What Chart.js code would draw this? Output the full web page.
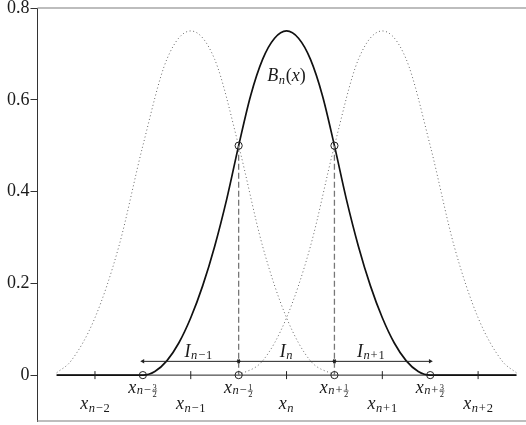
<!DOCTYPE html>
<html>
<head>
<meta charset="utf-8">
<script src="https://cdn.jsdelivr.net/npm/chart.js@4/dist/chart.umd.min.js"></script>
<style>
  html, body { margin: 0; padding: 0; background: #fff; overflow: hidden; }
  #wrap { width: 526px; height: 425px; }
</style>
</head>
<body>
<div id="wrap"><canvas id="splineChart" width="526" height="425"></canvas></div>
<script>
// B_n(x) (x in cell widths, centred on x_n)
const splineX = [-2.4, -1.5, -1.375, -1.25, -1.125, -1, -0.875, -0.75, -0.625, -0.5, -0.375, -0.25, -0.125, 0,
                 0.125, 0.25, 0.375, 0.5, 0.625, 0.75, 0.875, 1, 1.125, 1.25, 1.375, 1.5, 2.4];
const splineY = [0, 0, 0.008, 0.031, 0.07, 0.125, 0.195, 0.281, 0.383, 0.5, 0.609, 0.688, 0.734, 0.75,
                 0.734, 0.688, 0.609, 0.5, 0.383, 0.281, 0.195, 0.125, 0.07, 0.031, 0.008, 0, 0];

// neighbouring splines (dotted)
const leftX  = [-2.4, -2.25, -2, -1.75, -1.5, -1.25, -1, -0.75, -0.5, -0.25, 0, 0.25, 0.5];
const leftY  = [0.005, 0.031, 0.125, 0.281, 0.5, 0.688, 0.75, 0.688, 0.5, 0.281, 0.125, 0.031, 0];
const rightX = [-0.5, -0.25, 0, 0.25, 0.5, 0.75, 1, 1.25, 1.5, 1.75, 2, 2.25, 2.4];
const rightY = [0, 0.031, 0.125, 0.281, 0.5, 0.688, 0.75, 0.688, 0.5, 0.281, 0.125, 0.031, 0.005];

// knots, cell centres, intervals
const knotX = [-1.5, -0.5, 0.5, 1.5];
const knotY = [0, 0, 0, 0];
const midX = [-0.5, 0.5];
const midY = [0.5, 0.5];
const gridX = [-2, -1, 0, 1, 2];
const intervalStart = [-1.5, -0.5, 0.5];
const intervalEnd = [-0.5, 0.5, 1.5];
const arrowY = 0.03;
const yTicks = [0, 0.2, 0.4, 0.6, 0.8];

// labels
const knotSubs = ['n−', 'n−', 'n+', 'n+'];
const knotFracs = [['3', '2'], ['1', '2'], ['1', '2'], ['3', '2']];
const gridSubs = ['n−2', 'n−1', 'n', 'n+1', 'n+2'];
const intervalSubs = ['n−1', 'n', 'n+1'];
const intervalLabelX = [-0.92, 0, 0.88];

const SERIF = '"Liberation Serif", "DejaVu Serif", serif';
const MAIN = 'italic 18px ' + SERIF;
const SUBI = 'italic 12.5px ' + SERIF;
const SUBR = '12.5px ' + SERIF;
const FRAC = '8.5px ' + SERIF;

function pts(xs, ys) {
    return xs.map(function (x, i) { return {x: x, y: ys[i]}; });
}

function subSegs(sub, dy) {
    // first letter is the italic n, the rest upright (operator gets a bit of air)
    let segs = [{t: sub[0], font: SUBI, dy: dy, gap: 0.8}];
    if (sub.length > 1) {
        segs.push({t: sub[1], font: SUBR, dy: dy, gap: 0.8});
        if (sub.length > 2) segs.push({t: sub.slice(2), font: SUBR, dy: dy});
    }
    return segs;
}

function drawMath(ctx, cx, y, segs) {
    let w = 0;
    segs.forEach(function (s) {
        ctx.font = s.font;
        if (s.frac) {
            s.w = Math.max(ctx.measureText(s.frac[0]).width, ctx.measureText(s.frac[1]).width) + 1.5;
        } else {
            s.w = ctx.measureText(s.t).width;
        }
        w += s.w + (s.gap || 0);
    });
    let x = cx - w / 2;
    ctx.textAlign = 'left';
    ctx.textBaseline = 'alphabetic';
    ctx.fillStyle = '#1a1a1a';
    segs.forEach(function (s) {
        ctx.font = s.font;
        if (s.frac) {
            let bar = y + s.dy;
            let nw = ctx.measureText(s.frac[0]).width;
            let dw = ctx.measureText(s.frac[1]).width;
            ctx.fillText(s.frac[0], x + (s.w - nw) / 2, bar - 1);
            ctx.fillText(s.frac[1], x + (s.w - dw) / 2, bar + 6.5);
            ctx.beginPath();
            ctx.strokeStyle = '#1a1a1a';
            ctx.lineWidth = 0.6;
            ctx.moveTo(x + 0.3, bar);
            ctx.lineTo(x + s.w - 0.3, bar);
            ctx.stroke();
        } else {
            ctx.fillText(s.t, x, y + s.dy);
        }
        x += s.w + (s.gap || 0);
    });
}

// frame lines + math labels
const labelPlugin = {
    id: 'labels',
    beforeDatasetsDraw: function (chart) {
        const ctx = chart.ctx, a = chart.chartArea;
        ctx.save();
        ctx.strokeStyle = '#a8a8a8';
        ctx.lineWidth = 1.3;
        ctx.beginPath();
        ctx.moveTo(a.left, a.top);
        ctx.lineTo(a.right, a.top);
        ctx.moveTo(a.left, a.bottom);
        ctx.lineTo(a.right, a.bottom);
        ctx.stroke();
        ctx.restore();
    },
    afterDatasetsDraw: function (chart) {
        const ctx = chart.ctx;
        const xs = chart.scales.x, ys = chart.scales.y;
        ctx.save();

        // x_{n±k/2} under the knots
        knotX.forEach(function (k, i) {
            let segs = [{t: 'x', font: MAIN, dy: 0, gap: 0.5}].concat(subSegs(knotSubs[i], 1));
            segs.push({frac: knotFracs[i], font: FRAC, dy: -2.5});
            drawMath(ctx, xs.getPixelForValue(k), ys.getPixelForValue(-0.04), segs);
        });

        // x_{n+k} under the cell centres
        gridX.forEach(function (g, i) {
            let segs = [{t: 'x', font: MAIN, dy: 0, gap: 0.5}].concat(subSegs(gridSubs[i], 3));
            drawMath(ctx, xs.getPixelForValue(g), ys.getPixelForValue(-0.074), segs);
        });

        // I_{n+k} above the arrows
        intervalLabelX.forEach(function (lx, i) {
            let segs = [{t: 'I', font: MAIN, dy: 0, gap: 0.5}].concat(subSegs(intervalSubs[i], 2));
            drawMath(ctx, xs.getPixelForValue(lx), ys.getPixelForValue(0.039), segs);
        });

        // B_n(x)
        drawMath(ctx, xs.getPixelForValue(0), ys.getPixelForValue(0.64), [
            {t: 'B', font: MAIN, dy: 0, gap: 0.5},
            {t: 'n', font: SUBI, dy: 3, gap: 0.8},
            {t: '(', font: '18px ' + SERIF, dy: 0},
            {t: 'x', font: MAIN, dy: 0},
            {t: ')', font: '18px ' + SERIF, dy: 0}
        ]);
        ctx.restore();
    }
};

let datasets = [];

// circles on knots and at the 0.5 crossings
datasets.push({
    data: pts(knotX, knotY).concat(pts(midX, midY)),
    showLine: false,
    pointStyle: 'circle',
    pointRadius: 3.6,
    borderColor: '#222',
    backgroundColor: 'rgba(0,0,0,0)',
    pointBorderWidth: 1
});

// small ticks on the axis line at the cell centres
datasets.push({
    data: pts(gridX, gridX.map(function () { return 0; })),
    showLine: false,
    pointStyle: 'line',
    pointRotation: 90,
    pointRadius: 4,
    borderColor: '#222',
    pointBorderWidth: 1
});

// double arrows for the intervals
intervalStart.forEach(function (s, i) {
    datasets.push({
        data: pts([s, intervalEnd[i]], [arrowY, arrowY]),
        showLine: true,
        borderColor: '#222',
        borderWidth: 1,
        backgroundColor: '#222',
        pointStyle: 'triangle',
        pointRotation: [270, 90],
        pointRadius: 2.6,
        pointBorderWidth: 0
    });
});

// dashed drops from the 0.5 crossings
midX.forEach(function (m, i) {
    datasets.push({
        data: pts([m, m], [midY[i], 0]),
        showLine: true,
        borderColor: '#777',
        borderWidth: 1.3,
        borderDash: [6, 3],
        pointRadius: 0
    });
});

// B_n solid
datasets.push({
    data: pts(splineX, splineY),
    showLine: true,
    borderColor: '#111',
    borderWidth: 1.7,
    cubicInterpolationMode: 'monotone',
    pointRadius: 0
});

// neighbours dotted
[[leftX, leftY], [rightX, rightY]].forEach(function (d) {
    datasets.push({
        data: pts(d[0], d[1]),
        showLine: true,
        borderColor: '#666',
        borderWidth: 1,
        borderDash: [1, 2.6],
        cubicInterpolationMode: 'monotone',
        pointRadius: 0
    });
});

// thin axis line y = 0
datasets.push({
    data: pts([-2.4, 2.4], [0, 0]),
    showLine: true,
    borderColor: '#222',
    borderWidth: 1,
    pointRadius: 0
});

let ctx = document.getElementById('splineChart').getContext('2d');
let myChart = new Chart(ctx, {
    type: 'scatter',
    data: {datasets: datasets},
    options: {
        responsive: false,
        animation: false,
        devicePixelRatio: 1,
        events: [],
        layout: {autoPadding: false, padding: {top: 8, bottom: 4, left: 0, right: 0}},
        plugins: {legend: {display: false}, tooltip: {enabled: false}},
        scales: {
            x: {
                type: 'linear',
                min: -2.6,
                max: 2.5,
                display: false,
                ticks: {display: false},
                afterFit: function (scale) {
                    scale.paddingLeft = 0;
                    scale.paddingRight = 0;
                }
            },
            y: {
                type: 'linear',
                min: -0.1,
                max: 0.8,
                afterBuildTicks: function (scale) {
                    scale.ticks = yTicks.map(function (v) { return {value: v}; });
                },
                afterFit: function (scale) {
                    scale.width = 37.5;
                    scale.paddingTop = 0;
                    scale.paddingBottom = 0;
                },
                border: {color: '#333', width: 1},
                grid: {drawOnChartArea: false, drawTicks: true, tickLength: 7, color: '#333'},
                ticks: {
                    font: {family: SERIF, size: 18, lineHeight: 1},
                    color: '#1a1a1a',
                    padding: 1,
                    callback: function (v) { return String(v); }
                }
            }
        }
    },
    plugins: [labelPlugin]
});
</script>
</body>
</html>
